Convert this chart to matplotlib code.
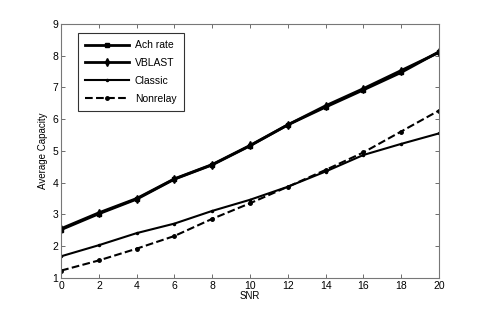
import matplotlib
matplotlib.use("Agg")
import matplotlib.pyplot as plt

snr = [0, 2, 4, 6, 8, 10, 12, 14, 16, 18, 20]
ach_rate = [2.52, 3.02, 3.48, 4.11, 4.56, 5.16, 5.82, 6.38, 6.92, 7.47, 8.12]
vblast = [2.55, 3.05, 3.50, 4.12, 4.57, 5.17, 5.82, 6.42, 6.96, 7.53, 8.10]
classic = [1.68, 2.03, 2.41, 2.71, 3.11, 3.46, 3.87, 4.35, 4.87, 5.22, 5.55]
nonrelay = [1.23, 1.55, 1.92, 2.32, 2.86, 3.35, 3.87, 4.40, 4.95, 5.61, 6.27]

plt.rcParams['font.family'] = ['Liberation Sans', 'DejaVu Sans']
plt.rcParams['font.size'] = 7

fig = plt.figure(figsize=(4.85, 3.14), dpi=100)
ax = fig.add_axes([0.126, 0.115, 0.779, 0.809])

ax.plot(snr, ach_rate, 'k-', marker='s', markersize=3.5, linewidth=2, label='Ach rate')
ax.plot(snr, vblast, 'k-', marker='d', markersize=4, linewidth=2, label='VBLAST')
ax.plot(snr, classic, 'k-', marker='.', markersize=3, linewidth=1.5, label='Classic')
ax.plot(snr, nonrelay, 'k--', marker='o', markersize=2.5, linewidth=1.5, label='Nonrelay')

ax.set_xlim(0, 20)
ax.set_ylim(1, 9)
ax.set_xticks(range(0, 21, 2))
ax.set_yticks(range(1, 10))
ax.set_xlabel('SNR', labelpad=0)
ax.set_ylabel('Average Capacity', labelpad=3)
ax.tick_params(direction='in', top=True, right=True, length=3, width=0.6,
               colors='#555555', labelcolor='black', pad=2, labelsize=7.5)
for s in ax.spines.values():
    s.set_color('#777777')
    s.set_linewidth(0.8)

leg = ax.legend(loc='upper left', fancybox=False, edgecolor='black',
                handlelength=4.2, borderpad=0.7, labelspacing=0.75,
                handletextpad=0.6, fontsize=7.5, bbox_to_anchor=(0.03, 0.985))
leg.get_frame().set_linewidth(0.8)

fig.savefig('out.png', dpi=100)
